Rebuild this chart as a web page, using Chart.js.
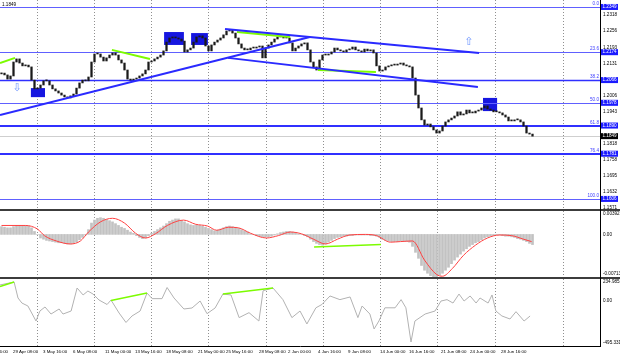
<!DOCTYPE html>
<html><head><meta charset="utf-8">
<script src="https://cdn.jsdelivr.net/npm/chart.js@4.4.1/dist/chart.umd.min.js"></script>
<style>
html,body{margin:0;padding:0;background:#fff;}
#wrap{position:relative;width:620px;height:357px;overflow:hidden;background:#fff;}
canvas{position:absolute;left:0;}
</style></head><body>
<div id="wrap">
<canvas id="cMain" width="620" height="209" style="top:0px"></canvas>
<canvas id="cMacd" width="620" height="68" style="top:209px"></canvas>
<canvas id="cCci" width="620" height="80" style="top:277px"></canvas>
</div>
<script>
// ---------------- DATA ----------------
const headerText = '1.1849';
const firstOpen = 1.2090;
const closes = [
1.2093,1.2086,1.2070,1.2082,1.2136,1.2148,1.2132,1.2121,1.2124,1.2117,
1.2066,1.2032,1.2035,1.2047,1.2063,1.2063,1.2047,1.2032,1.2024,1.2016,
1.2008,1.2001,1.1997,1.2005,1.2012,1.2035,1.2055,1.2066,1.2063,1.2078,
1.2136,1.2167,1.2167,1.2155,1.2140,1.2152,1.2163,1.2171,1.2163,1.2144,
1.2132,1.2105,1.2070,1.2066,1.2070,1.2074,1.2082,1.2090,1.2105,1.2136,
1.2140,1.2148,1.2155,1.2163,1.2179,1.2213,1.2229,1.2233,1.2229,1.2225,
1.2217,1.2175,1.2183,1.2190,1.2213,1.2233,1.2237,1.2229,1.2198,1.2179,
1.2202,1.2213,1.2221,1.2229,1.2241,1.2256,1.2260,1.2248,1.2229,1.2206,
1.2190,1.2183,1.2183,1.2190,1.2190,1.2194,1.2198,1.2152,1.2190,1.2202,
1.2213,1.2225,1.2233,1.2233,1.2229,1.2229,1.2210,1.2179,1.2190,1.2198,
1.2206,1.2210,1.2183,1.2136,1.2117,1.2105,1.2144,1.2163,1.2163,1.2167,
1.2175,1.2190,1.2183,1.2179,1.2175,1.2183,1.2186,1.2194,1.2183,1.2179,
1.2175,1.2186,1.2179,1.2183,1.2171,1.2121,1.2101,1.2105,1.2117,1.2121,
1.2124,1.2124,1.2128,1.2132,1.2124,1.2121,1.2117,1.2074,1.2008,1.1958,
1.1912,1.1892,1.1896,1.1885,1.1873,1.1861,1.1869,1.1888,1.1904,1.1912,
1.1919,1.1927,1.1943,1.1931,1.1935,1.1950,1.1939,1.1939,1.1946,1.1950,
1.1958,1.1966,1.1954,1.1950,1.1943,1.1943,1.1939,1.1931,1.1923,1.1908,
1.1908,1.1912,1.1912,1.1904,1.1888,1.1861,1.1857,1.1849];

const macdHist = [
.0013,.0012,.0011,.0011,.0013,.0015,.0015,.0014,.0015,.0014,
.0011,.0005,.0000,-.0006,-.0008,-.0010,-.0011,-.0012,-.0013,-.0014,
-.0014,-.0015,-.0016,-.0016,-.0015,-.0013,-.0009,-.0005,-.0001,.0008,
.0019,.0024,.0027,.0028,.0027,.0025,.0023,.0021,.0018,.0015,
.0012,.0010,.0007,.0004,.0002,-.0002,-.0005,-.0007,-.0006,-.0002,
.0002,.0005,.0008,.0011,.0014,.0018,.0022,.0024,.0026,.0026,
.0023,.0021,.0018,.0016,.0015,.0016,.0015,.0014,.0012,.0010,
.0008,.0006,.0007,.0009,.0011,.0013,.0014,.0013,.0012,.0010,
.0008,.0006,.0004,.0001,.0000,-.0002,-.0003,-.0004,-.0004,-.0004,
-.0003,-.0001,.0001,.0003,.0004,.0005,.0005,.0004,.0003,.0001,
.0000,-.0002,-.0004,-.0008,-.0012,-.0015,-.0017,-.0018,-.0016,-.0013,
-.0010,-.0007,-.0005,-.0004,-.0003,-.0003,-.0002,-.0002,-.0001,-.0001,
-.0001,-.0001,-.0001,-.0002,-.0002,-.0003,-.0005,-.0008,-.0010,-.0011,
-.0012,-.0012,-.0012,-.0011,-.0011,-.0012,-.0013,-.0020,-.0030,-.0040,
-.0052,-.0060,-.0065,-.0069,-.0071,-.0071,-.0068,-.0065,-.0060,-.0055,
-.0049,-.0043,-.0038,-.0033,-.0028,-.0024,-.0020,-.0017,-.0014,-.0012,
-.0009,-.0006,-.0004,-.0003,-.0002,-.0001,-.0001,-.0002,-.0003,-.0003,
-.0004,-.0005,-.0007,-.0008,-.0010,-.0012,-.0015,-.0017];

const signalBars = [0,8,12,14.3,18.3,23,26.3,29,33,37,41,44.7,48,51.3,55.3,60.7,64.7,68.7,71.7,75.7,79,83,88.3,92.3,96.3,100,104,108,112,116,121.3,125,129.7,133,137,141,145,147,150.3,154,158,162,166,170,174,176.7];
const signalVals = [.0015,.0015,.0009,-.0002,-.0011,-.0016,-.0011,.0004,.0021,.0027,.0019,.0002,-.0006,.0001,.0015,.0024,.0017,.0014,.0007,.0012,.0011,.0002,-.0006,-.0002,.0004,.0001,-.0008,-.0016,-.0008,-.0001,0,-.0002,-.0013,-.0012,-.0011,-.0043,-.0067,-.0070,-.0057,-.0035,-.0018,-.0006,-.0001,-.0002,-.0008,-.0012];

const cciBars = [-0.5,4.2,5.5,6.8,8.8,11.5,12.8,14.5,16.5,19.2,20.5,23.2,25.2,27.2,28.8,30.5,32.5,35.2,36.5,39.2,41.5,43.5,46.2,48.5,50.2,53.5,55.2,57.5,60.8,63.5,66.2,68.5,71.2,73.8,76.5,79.2,82.5,85.8,87.2,90.5,93.8,96.8,99.5,101.8,104.8,106.8,109.5,112.8,116.2,118.8,120.2,122.8,124.2,125.8,127.8,131.2,133.2,134.8,136.5,137.8,141.2,144.5,146.5,148.5,150.5,152.5,154.2,156.2,158.2,159.5,162.2,163.5,164.8,166.8,169.5,171.5,174.2,176.2];
const cciVals = [170,202,28,-27,-59,-223,-114,-70,-147,-92,-147,-114,137,61,104,71,6,-43,6,-136,-239,-168,-114,82,21,21,142,28,-92,-81,-5,-143,-81,71,61,-186,-132,-223,107,137,10,-186,-114,-255,-79,-43,50,10,39,-186,-59,-147,-310,-223,-79,-79,10,-79,-452,-223,-147,-114,-5,10,-27,71,-5,50,-27,28,-27,61,-114,-168,-201,-121,-223,-168];

const fibNames  = ['0.0','23.6','38.2','50.0','61.8','76.4','100.0'];
const fibPrices = [1.2349,1.2174,1.2066,1.1978,1.1890,1.1781,1.1606];
const lastPrice = 1.1849;

const priceTicks = [1.2318,1.2256,1.2193,1.2131,1.2006,1.1943,1.1818,1.1758,1.1695,1.1632,1.1571];
const macdTickVals = [0.00392, 0, -0.00713];
const macdTickText = ['0.00392','0.00','-0.00713'];
const cciTickVals = [234.9851, 0, -495.331];
const cciTickText = ['234.9851','0.00','-495.331'];

const gridBars = [11.77,30.73,49.83,68.83,88.03,107.17,126.17,145.33,164.5,187.17];
const dateBars = [-6.2,3.83,13.83,23.83,34.5,44.5,54.83,65.5,74.83,85.83,95.5,105.5,115.5,126.17,135.83,146.5,156.17,166.5];
const dateLabels = ['26 Apr 16:00','29 Apr 08:00','3 May 16:00','6 May 08:00','11 May 00:00','13 May 16:00','18 May 08:00','21 May 00:00','25 May 16:00','28 May 08:00','2 Jun 00:00','4 Jun 16:00','9 Jun 08:00','14 Jun 00:00','16 Jun 16:00','21 Jun 08:00','24 Jun 00:00','28 Jun 16:00'];

// trend lines: [bar0, value0, bar1, value1]
const blueTrendLines = [[-0.5,1.1931,102.8,1.2233],[74.5,1.2264,159.2,1.2171],[75.5,1.2152,158.8,1.2039]];
const greenPriceLines = [[-0.5,1.2132,4.5,1.2152],[36.8,1.2183,49.5,1.2148],[78.5,1.2252,96.2,1.2233],[105.5,1.2105,124.8,1.2097]];
const greenMacdLines = [[104.2,-0.0021,126.5,-0.0017]];
const greenCciLines = [[-0.5,153,4.2,202],[36.5,0,48.5,82],[73.8,71,90.5,137]];
// rectangles: [barFrom, barTo, priceTop, priceBottom]
const blueBoxes = [[9.8,14.5,1.2035,1.2000],[54.2,60.8,1.2252,1.2202],[63.2,68.8,1.2248,1.2202],[160.5,165.2,1.1997,1.1946]];
// arrows: [bar, price, direction]
const arrowMarks = [[5.2,1.2035,'down'],[155.8,1.2213,'up']];

// ---------------- STYLE / HELPERS ----------------
const FONT = (s)=> s+'px "Liberation Sans", Arial, sans-serif';
const AXIS_W = 20;
const xScaleCfg = {type:'linear', min:-0.5, max:199.5, display:false, offset:false};
const baseOpts = {responsive:false, animation:false, events:[], plugins:{legend:{display:false}, tooltip:{enabled:false}}};
const segData = (s)=>[{x:s[0],y:s[1]},{x:s[2],y:s[3]}];
const lineDs = (data, color, w, extra)=>Object.assign({type:'line', data, borderColor:color, borderWidth:w, pointRadius:0, fill:false, tension:0, order:1}, extra||{});

const gridPlugin = {id:'mtGrid', beforeDatasetsDraw(chart){
  const {ctx, chartArea:a, scales:{x}} = chart;
  ctx.save(); ctx.strokeStyle='#8f8f8f'; ctx.lineWidth=1; ctx.setLineDash([1,2]);
  gridBars.forEach(b=>{ const px=Math.round(x.getPixelForValue(b))+0.5;
    ctx.beginPath(); ctx.moveTo(px,a.top); ctx.lineTo(px,a.bottom); ctx.stroke(); });
  ctx.restore();
}};

function axisLabels(chart, vals, texts, dys){
  const {ctx, chartArea:a, scales:{y}} = chart;
  ctx.save(); ctx.fillStyle='#000'; ctx.font=FONT(4.6); ctx.textAlign='left'; ctx.textBaseline='middle';
  vals.forEach((v,k)=>{ ctx.fillText(texts[k], a.right+3, y.getPixelForValue(v)+(dys?dys[k]:0)); });
  ctx.restore();
}
function axisLine(chart, y0, y1){
  const {ctx, chartArea:a} = chart;
  ctx.save(); ctx.strokeStyle='#000'; ctx.lineWidth=1;
  ctx.beginPath(); ctx.moveTo(a.right+0.5,y0); ctx.lineTo(a.right+0.5,y1); ctx.stroke(); ctx.restore();
}
function separator(chart){
  const {ctx} = chart; ctx.save(); ctx.fillStyle='#3c3c3c'; ctx.fillRect(0,0,chart.width,2); ctx.restore();
}

// ---------------- MAIN PRICE CHART ----------------
const candleData = closes.map((c,i)=>({x:i, y:[i===0?firstOpen:closes[i-1], c]}));
const mainPlugin = {id:'mtMain',
  beforeDatasetsDraw(chart){
    const {ctx, chartArea:a, scales:{x,y}} = chart;
    ctx.save();
    ctx.fillStyle='#1616e0';
    blueBoxes.forEach(b=>{ const x0=x.getPixelForValue(b[0]), x1=x.getPixelForValue(b[1]);
      const y0=y.getPixelForValue(b[2]), y1=y.getPixelForValue(b[3]);
      ctx.fillRect(x0,y0,x1-x0,y1-y0); });
    ctx.strokeStyle='#cfcfcf'; ctx.lineWidth=1;
    let py=Math.round(y.getPixelForValue(lastPrice))+0.5;
    ctx.beginPath(); ctx.moveTo(a.left,py); ctx.lineTo(a.right,py); ctx.stroke();
    const widths=[1,1,1.5,1,2,2,1];
    fibPrices.forEach((p,k)=>{ ctx.strokeStyle = widths[k]>1 ? '#3030ff' : '#6060ff'; ctx.lineWidth=widths[k];
      const yy=Math.round(y.getPixelForValue(p))+(widths[k]%2?0.5:0);
      ctx.beginPath(); ctx.moveTo(a.left,yy); ctx.lineTo(a.right,yy); ctx.stroke(); });
    ctx.restore();
  },
  afterDatasetsDraw(chart){
    const {ctx, chartArea:a, scales:{x,y}} = chart;
    ctx.save();
    ctx.fillStyle='#3a3aff'; ctx.font=FONT(4.6); ctx.textAlign='right'; ctx.textBaseline='bottom';
    fibPrices.forEach((p,k)=>ctx.fillText(fibNames[k], a.right-1, y.getPixelForValue(p)-1));
    ctx.fillStyle='#6f96ff'; ctx.font='11px "DejaVu Sans"'; ctx.textAlign='center'; ctx.textBaseline='middle';
    arrowMarks.forEach(m=>ctx.fillText(m[2]==='up'?'\u21E7':'\u21E9', x.getPixelForValue(m[0]), y.getPixelForValue(m[1])));
    ctx.restore();
  },
  afterDraw(chart){
    const {ctx, chartArea:a, scales:{y}} = chart;
    axisLine(chart, 0, chart.height);
    axisLabels(chart, priceTicks, priceTicks.map(v=>v.toFixed(4)));
    ctx.save(); ctx.font=FONT(4.6); ctx.textBaseline='middle'; ctx.textAlign='left';
    fibPrices.forEach(p=>{ const yy=y.getPixelForValue(p);
      ctx.fillStyle='#1a1aff'; ctx.fillRect(a.right+1, yy-3, 17, 6);
      ctx.fillStyle='#fff'; ctx.fillText(p.toFixed(4), a.right+2.5, yy); });
    const ly=y.getPixelForValue(lastPrice);
    ctx.fillStyle='#000'; ctx.fillRect(a.right+1, ly-3, 17, 6);
    ctx.fillStyle='#fff'; ctx.fillText(lastPrice.toFixed(4), a.right+2.5, ly);
    ctx.fillStyle='#000'; ctx.fillText(headerText, 2, 5);
    ctx.restore();
  }
};

new Chart(document.getElementById('cMain'), {
  type:'bar',
  data:{datasets:[
    {type:'bar', data:candleData, backgroundColor:'#1a1a1a', borderWidth:0, barThickness:1.6, minBarLength:1, grouped:false, order:3},
    ...blueTrendLines.map(s=>lineDs(segData(s), '#2a2aff', 2)),
    ...greenPriceLines.map(s=>lineDs(segData(s), '#7cfc00', 2))
  ]},
  options:Object.assign({}, baseOpts, {
    layout:{padding:{left:0,right:AXIS_W,top:0,bottom:0}},
    scales:{x:xScaleCfg, y:{min:1.1567, max:1.2376, display:false}}
  }),
  plugins:[gridPlugin, mainPlugin]
});

// ---------------- MACD ----------------
const macdPlugin = {id:'mtMacd', afterDraw(chart){
  separator(chart);
  axisLine(chart, 0, chart.height);
  axisLabels(chart, macdTickVals, macdTickText, [3,0,-3]);
}};
new Chart(document.getElementById('cMacd'), {
  type:'bar',
  data:{datasets:[
    {type:'bar', data:macdHist.map((v,i)=>({x:i,y:v})), backgroundColor:'#c2c2c2', borderWidth:0, barThickness:2, grouped:false, order:3},
    lineDs(signalBars.map((b,k)=>({x:b,y:signalVals[k]})), '#ff4040', 1, {cubicInterpolationMode:'monotone', order:2}),
    ...greenMacdLines.map(s=>lineDs(segData(s), '#7cfc00', 1.5))
  ]},
  options:Object.assign({}, baseOpts, {
    layout:{padding:{left:0,right:AXIS_W,top:2,bottom:0}},
    scales:{x:xScaleCfg, y:{min:-0.00713, max:0.00392, display:false}}
  }),
  plugins:[gridPlugin, macdPlugin]
});

// ---------------- CCI ----------------
const cciPlugin = {id:'mtCci', afterDraw(chart){
  const {ctx, chartArea:a, scales:{x}} = chart;
  separator(chart);
  axisLine(chart, 0, a.bottom+1);
  axisLabels(chart, cciTickVals, cciTickText, [3,0,-3]);
  ctx.save(); ctx.strokeStyle='#000'; ctx.lineWidth=1;
  ctx.beginPath(); ctx.moveTo(0,a.bottom+0.5); ctx.lineTo(a.right+1,a.bottom+0.5); ctx.stroke();
  ctx.fillStyle='#000'; ctx.font=FONT(4.4); ctx.textAlign='left'; ctx.textBaseline='middle';
  dateBars.forEach((b,k)=>ctx.fillText(dateLabels[k], x.getPixelForValue(b), a.bottom+6));
  ctx.restore();
}};
new Chart(document.getElementById('cCci'), {
  type:'line',
  data:{datasets:[
    lineDs(cciBars.map((b,k)=>({x:b,y:cciVals[k]})), '#b2b2b2', 1, {order:2}),
    ...greenCciLines.map(s=>lineDs(segData(s), '#7cfc00', 1.5))
  ]},
  options:Object.assign({}, baseOpts, {
    layout:{padding:{left:0,right:AXIS_W,top:2,bottom:11}},
    scales:{x:xScaleCfg, y:{min:-495.331, max:234.9851, display:false}}
  }),
  plugins:[gridPlugin, cciPlugin]
});
</script>
</body></html>
